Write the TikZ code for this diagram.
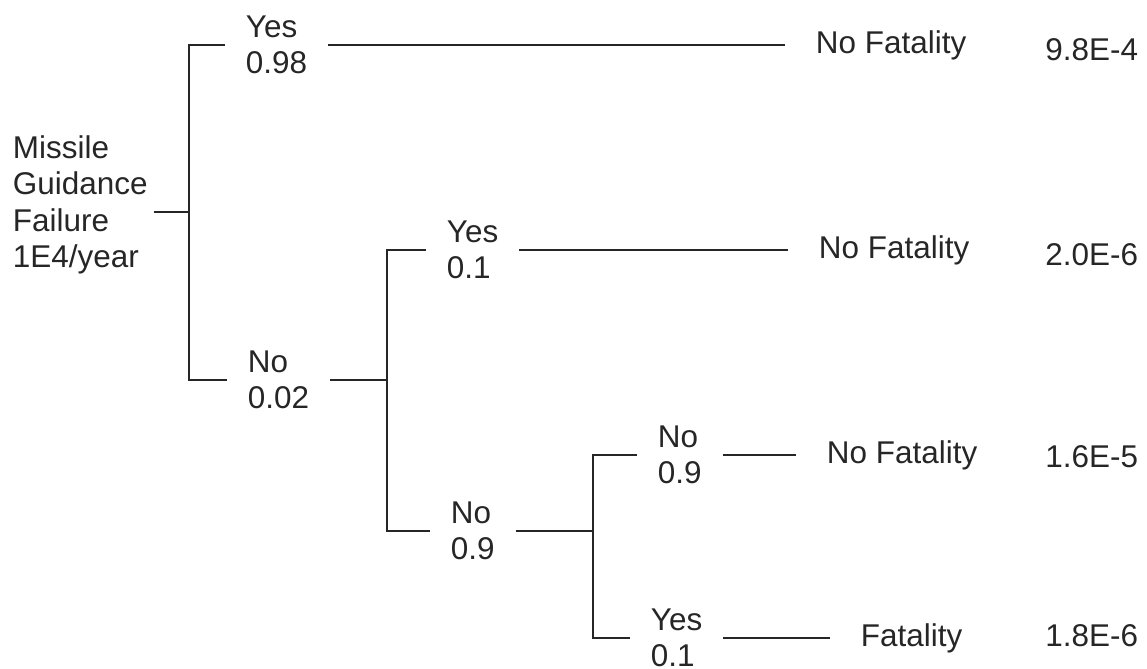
\documentclass[tikz,border=0pt]{standalone}
\usepackage{fontspec}
\setmainfont{Liberation Sans}

\begin{document}
\begin{tikzpicture}[x=0.02cm, y=-0.02cm, line width=1.1pt, black!85,
  every node/.style={font=\fontsize{17.9}{20.7}\selectfont, inner sep=0pt},
  branch/.style={anchor=west, align=left, inner xsep=0.4cm},
  outcome/.style={anchor=west, inner xsep=0.6cm},
  freq/.style={anchor=east}]
  \useasboundingbox (0,0) rectangle (1147,669);
  % Nodes
  \node[anchor=west, align=left, inner xsep=0.1cm] (root) at (7,205) {Missile\\Guidance\\Failure\\1E4/year};
  \node[branch] (yes1) at (225,45) {Yes\\0.98};
  \node[branch] (no1) at (227,380) {No\\0.02};
  \node[branch] (yes2) at (426,250) {Yes\\0.1};
  \node[branch] (no2) at (430,531) {No\\0.9};
  \node[branch] (no3) at (637,455) {No\\0.9};
  \node[branch] (yes3) at (630,638) {Yes\\0.1};
  \node[outcome] (out1) at (785,45) {No Fatality};
  \node[outcome] (out2) at (788,250) {No Fatality};
  \node[outcome] (out3) at (796,455) {No Fatality};
  \node[outcome] (out4) at (830,638) {Fatality};
  \node[freq] (val1) at (1139,50) {9.8E-4};
  \node[freq] (val2) at (1139,255) {2.0E-6};
  \node[freq] (val3) at (1139,457) {1.6E-5};
  \node[freq] (val4) at (1139,636) {1.8E-6};
  \coordinate (j1) at (189,212);
  \coordinate (j2) at (387,380);
  \coordinate (j3) at (593,531);
  % Connections
  \draw (root.east |- j1) -- (j1);
  \draw (j1) |- (yes1);
  \draw (j1) |- (no1);
  \draw (yes1) -- (out1);
  \draw (no1) -- (j2);
  \draw (j2) |- (yes2);
  \draw (j2) |- (no2);
  \draw (yes2) -- (out2);
  \draw (no2) -- (j3);
  \draw (j3) |- (no3);
  \draw (j3) |- (yes3);
  \draw (no3) -- (out3);
  \draw (yes3) -- (out4);
\end{tikzpicture}
\end{document}
